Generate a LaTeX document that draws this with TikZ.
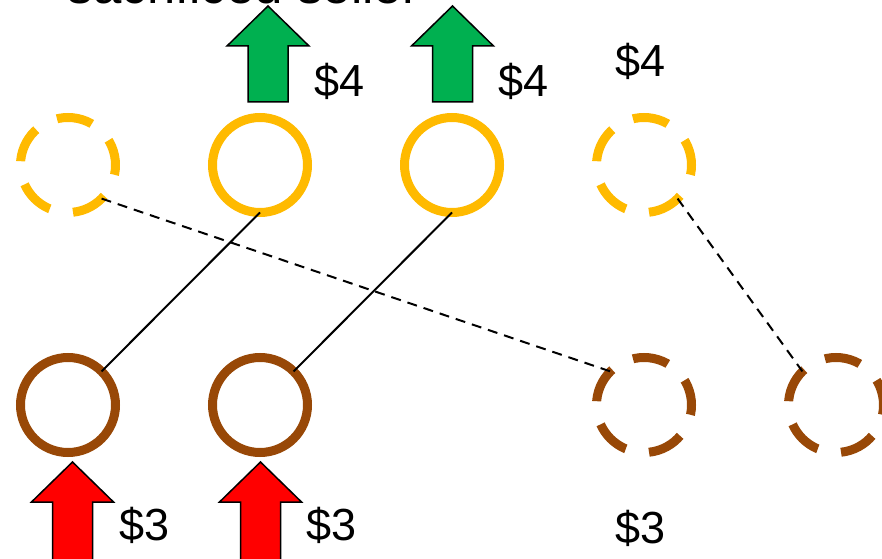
\documentclass[tikz,border=0pt]{standalone}
\usepackage{fontspec}
\setmainfont{Liberation Sans}
\definecolor{seller}{HTML}{FFBA00}
\definecolor{buyer}{HTML}{984807}
\definecolor{gain}{HTML}{00B050}
\definecolor{pay}{HTML}{FF0000}

% block arrow pointing up: #1 style, #2 x, #3 tip y, #4 shaft length
\newcommand{\blockarrow}[4]{%
	\draw[#1] (#2,#3) -- ++(0.82,-0.8) -- ++(-0.42,0) -- ++(0,-#4) -- ++(-0.8,0) -- ++(0,#4) -- ++(-0.42,0) -- cycle;}

\begin{document}
\begin{tikzpicture}
		\tikzstyle{agent}=[circle,draw,line width=0.18cm,minimum size=1.9cm,inner sep=0,outer sep=0]
		\tikzstyle{sell}=[agent,draw=seller]
		\tikzstyle{buy}=[agent,draw=buyer]
		\tikzstyle{gone}=[dash pattern=on 0.72cm off 0.474cm,dash phase=0.2cm]
		\tikzstyle{match}=[line width=0.04cm]
		\tikzstyle{nomatch}=[line width=0.04cm,dash pattern=on 0.2cm off 0.14cm]
		\tikzstyle{price}=[inner sep=0,anchor=base west,font=\fontsize{25.6}{30}\selectfont]
		
		\useasboundingbox (0,0) rectangle (17.64,-11.18);
		
		\node [anchor=base,inner sep=0,font=\fontsize{29}{34}\selectfont] (title) at (4.87,-0.07) {sacrificed seller};
		
		\node [sell,gone] (t1) at ( 1.36, -3.30) {};
		\node [sell]      (t2) at ( 5.20, -3.30) {};
		\node [sell]      (t3) at ( 9.04, -3.30) {};
		\node [sell,gone] (t4) at (12.88, -3.30) {};
		
		\node [buy]      (b1) at ( 1.36, -8.10) {};
		\node [buy]      (b2) at ( 5.20, -8.10) {};
		\node [buy,gone] (b3) at (12.88, -8.10) {};
		\node [buy,gone] (b4) at (16.72, -8.10) {};
		
		\draw[match] (t2.south) -- (b1.north east);
		\draw[match] (t3.south) -- (b2.north east);
		\draw[nomatch] (t1.south east) -- (b3.north west);
		\draw[nomatch] (t4.south east) -- (b4.north west);
		
		\blockarrow{fill=gain,draw=black,line width=0.03cm}{5.36}{-0.12}{1.12}
		\blockarrow{fill=gain,draw=black,line width=0.03cm}{9.05}{-0.12}{1.12}
		\blockarrow{fill=pay,draw=black,line width=0.03cm}{1.45}{-9.24}{1.6}
		\blockarrow{fill=pay,draw=black,line width=0.03cm}{5.21}{-9.24}{1.6}
		
		\node [price] (p1) at ( 6.28, -1.94) {\$4};
		\node [price] (p2) at ( 9.96, -1.94) {\$4};
		\node [price] (p3) at (12.30, -1.54) {\$4};
		\node [price] (q1) at ( 2.38,-10.80) {\$3};
		\node [price] (q2) at ( 6.12,-10.80) {\$3};
		\node [price] (q3) at (12.30,-10.86) {\$3};
	\end{tikzpicture}
\end{document}
